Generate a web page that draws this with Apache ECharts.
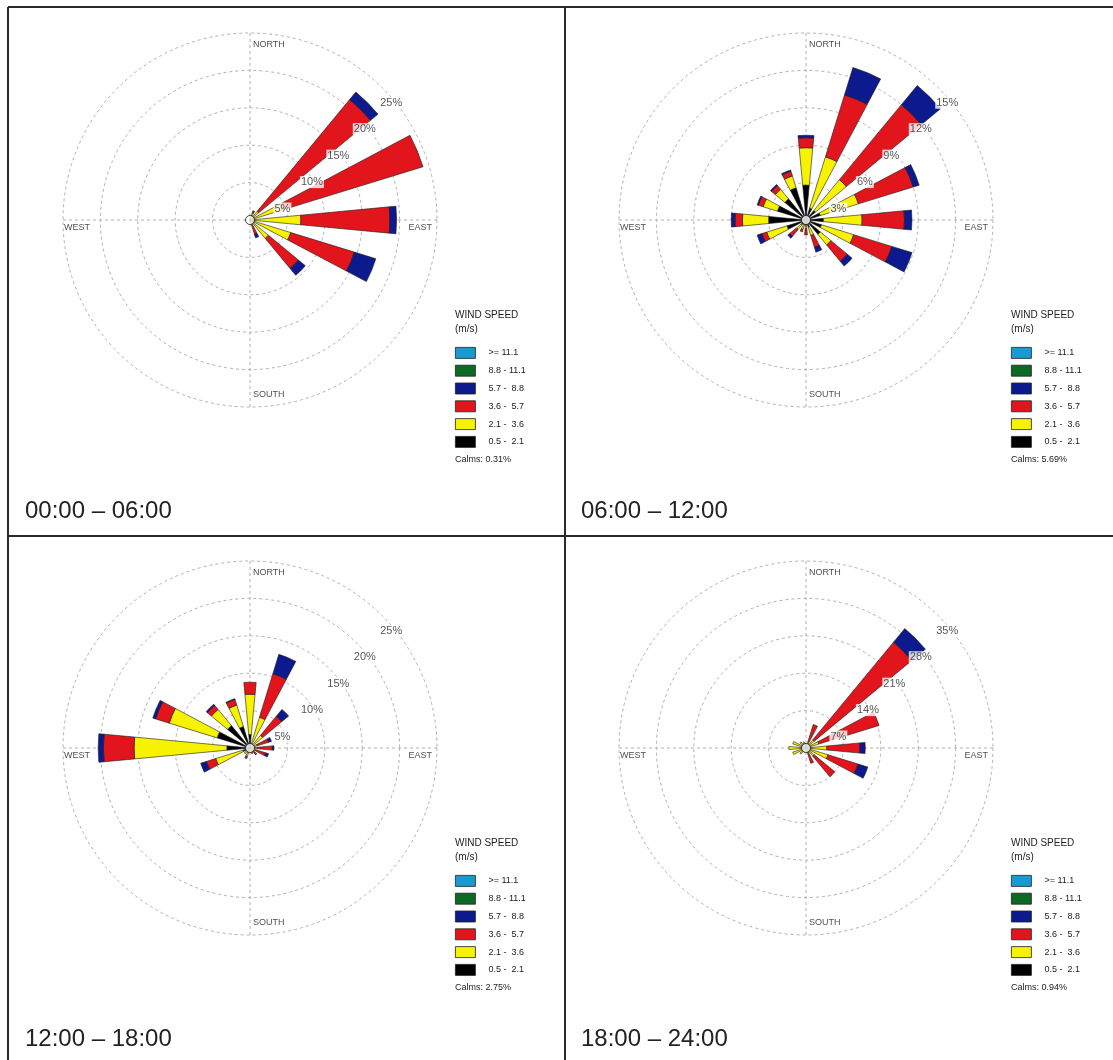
<!DOCTYPE html>
<html>
<head>
<meta charset="utf-8">
<title>Wind roses by time of day</title>
<script src="https://cdn.jsdelivr.net/npm/echarts@6/dist/echarts.min.js"></script>
<style>
  html, body { margin: 0; padding: 0; background: #ffffff; }
  #chart { width: 1113px; height: 1060px; }
</style>
</head>
<body>
<div id="chart"></div>
<script>
// ---------------------------------------------------------------------------
// Data: frequency (% of hours) per direction, split by wind-speed class.
// Each array runs N, NNE, NE, ... NNW; values are the share of each class,
// stacked outward from the calm circle.
// ---------------------------------------------------------------------------
const DIRECTIONS = ['N', 'NNE', 'NE', 'ENE', 'E', 'ESE', 'SE', 'SSE',
                    'S', 'SSW', 'SW', 'WSW', 'W', 'WNW', 'NW', 'NNW'];

// speed classes (m/s), innermost first
const SPEED_CLASSES = ['0.5 -  2.1', '2.1 -  3.6', '3.6 -  5.7', '5.7 -  8.8', '8.8 - 11.1', '>= 11.1'];
// legend order, top to bottom
const LEGEND_ORDER = ['>= 11.1', '8.8 - 11.1', '5.7 -  8.8', '3.6 -  5.7', '2.1 -  3.6', '0.5 -  2.1'];

const PERIOD_LABELS = ['00:00 \u2013 06:00', '06:00 \u2013 12:00', '12:00 \u2013 18:00', '18:00 \u2013 24:00'];
const CALMS = ['0.31%', '5.69%', '2.75%', '0.94%'];

// ring tick values (%) for each rose
const TICKS_00_06 = [5, 10, 15, 20, 25];
const TICKS_06_12 = [3, 6, 9, 12, 15];
const TICKS_12_18 = [5, 10, 15, 20, 25];
const TICKS_18_24 = [7, 14, 21, 28, 35];

// no hours above 8.8 m/s in any period
const NONE_ABOVE_8_8 = [0, 0, 0, 0, 0, 0, 0, 0, 0, 0, 0, 0, 0, 0, 0, 0];

// 00:00 - 06:00
const H00_06_0_5_2_1 = [0.1, 0.2, 0.3, 0.3, 0.4, 0.4, 0.3, 0.2, 0.2, 0.2, 0, 0, 0, 0, 0, 0];
const H00_06_2_1_3_6 = [0.2, 0.8, 1.2, 4.2, 6.4, 5.3, 2.9, 0.4, 0.1, 0, 0, 0, 0, 0, 0, 0];
const H00_06_3_6_5_7 = [0, 0.3, 19.4, 19.7, 11.9, 8.9, 5.2, 1.4, 0, 0, 0, 0, 0, 0, 0, 0];
const H00_06_5_7_8_8 = [0, 0, 1.3, 0, 0.9, 3.0, 1.2, 0.5, 0, 0, 0, 0, 0, 0, 0, 0];

// 06:00 - 12:00
const H06_12_0_5_2_1 = [2.8, 1.0, 1.0, 1.2, 1.4, 1.3, 1.5, 0.6, 0.4, 0.4, 0.5, 1.6, 3.0, 2.4, 2.2, 2.7];
const H06_12_2_1_3_6 = [3.0, 4.3, 3.2, 3.2, 3.1, 2.7, 1.1, 0.7, 0.3, 0.4, 0.5, 1.7, 2.1, 1.2, 1.0, 1.0];
const H06_12_3_6_5_7 = [0.8, 5.2, 7.8, 4.6, 3.4, 3.2, 1.7, 1.0, 0.5, 0.2, 0.7, 0.4, 0.6, 0.4, 0.4, 0.4];
const H06_12_5_7_8_8 = [0.2, 2.3, 2.0, 0.5, 0.6, 1.7, 0.5, 0.4, 0, 0, 0.2, 0.4, 0.3, 0.1, 0.1, 0.1];

// 12:00 - 18:00
const H12_18_0_5_2_1 = [1.8, 0.5, 0.3, 0.3, 0.3, 0.2, 0.2, 0.2, 0.2, 0.3, 0.3, 1.0, 3.1, 4.6, 3.9, 3.0];
const H12_18_2_1_3_6 = [5.4, 3.8, 1.9, 0.7, 0.7, 0.6, 0.4, 0.3, 0.2, 0.9, 0.7, 3.8, 12.4, 6.7, 2.8, 3.0];
const H12_18_3_6_5_7 = [1.6, 6.1, 3.3, 1.6, 2.0, 1.4, 0.6, 0.3, 0, 0.3, 0, 1.3, 4.1, 1.9, 0.7, 0.8];
const H12_18_5_7_8_8 = [0, 2.7, 1.2, 0.4, 0.2, 0.4, 0, 0, 0, 0, 0, 0.8, 0.7, 0.4, 0.2, 0.1];

// 18:00 - 24:00
const H18_24_0_5_2_1 = [0.3, 0.3, 0.3, 0.3, 0.3, 0.3, 0.3, 0.2, 0.2, 0.2, 0.3, 0.3, 0.3, 0.3, 0.3, 0.3];
const H18_24_2_1_3_6 = [0.5, 0.9, 1.7, 2.2, 3.6, 4.0, 1.7, 0.6, 0.4, 0.6, 1.2, 2.3, 2.9, 2.3, 1.2, 0.9];
const H18_24_3_6_5_7 = [0, 3.4, 23.7, 11.8, 6.2, 5.9, 5.0, 2.2, 0, 0, 0, 0, 0, 0, 0, 0];
const H18_24_5_7_8_8 = [0, 0, 3.3, 0, 1.0, 1.9, 0, 0, 0, 0, 0, 0, 0, 0, 0, 0];

// ---------------------------------------------------------------------------
// Layout and styling
// ---------------------------------------------------------------------------
const FONT = '"Liberation Sans", Arial, Helvetica, sans-serif';
const SPEED_COLORS = ['#000000', '#f6f200', '#e3151c', '#0c1a8e', '#0b6b22', '#1b9ad2'];
const ROSE_RADIUS = 187;
const PANEL_CENTERS = [[250, 220], [806, 220], [250, 748], [806, 748]];
const GUIDE_LINE = { color: '#b0b0b0', width: 1, type: [3, 3] };

const periods = [
  { label: PERIOD_LABELS[0], calm: CALMS[0], ticks: TICKS_00_06,
    classes: [H00_06_0_5_2_1, H00_06_2_1_3_6, H00_06_3_6_5_7, H00_06_5_7_8_8, NONE_ABOVE_8_8, NONE_ABOVE_8_8] },
  { label: PERIOD_LABELS[1], calm: CALMS[1], ticks: TICKS_06_12,
    classes: [H06_12_0_5_2_1, H06_12_2_1_3_6, H06_12_3_6_5_7, H06_12_5_7_8_8, NONE_ABOVE_8_8, NONE_ABOVE_8_8] },
  { label: PERIOD_LABELS[2], calm: CALMS[2], ticks: TICKS_12_18,
    classes: [H12_18_0_5_2_1, H12_18_2_1_3_6, H12_18_3_6_5_7, H12_18_5_7_8_8, NONE_ABOVE_8_8, NONE_ABOVE_8_8] },
  { label: PERIOD_LABELS[3], calm: CALMS[3], ticks: TICKS_18_24,
    classes: [H18_24_0_5_2_1, H18_24_2_1_3_6, H18_24_3_6_5_7, H18_24_5_7_8_8, NONE_ABOVE_8_8, NONE_ABOVE_8_8] }
];

const option = {
  backgroundColor: '#ffffff',
  animation: false,
  polar: [], angleAxis: [], radiusAxis: [],
  legend: [], title: [], series: [],
  graphic: []
};

const hidden = { show: false };

function textTitle(text, left, centerY, size) {
  return {
    text, left, top: centerY - Math.round(size * 0.6), padding: 0,
    textStyle: { fontSize: size, fontWeight: 'normal', color: '#222', fontFamily: FONT }
  };
}

periods.forEach((p, i) => {
  const [cx, cy] = PANEL_CENTERS[i];
  const step = p.ticks[0];
  const maxR = p.ticks[p.ticks.length - 1];
  const barPolar = 2 * i;
  const guidePolar = 2 * i + 1;

  option.polar.push({ center: [cx, cy], radius: ROSE_RADIUS });
  option.polar.push({ center: [cx, cy], radius: ROSE_RADIUS });

  // bars: 16 direction sectors, north centred at the top, clockwise
  option.angleAxis.push({
    polarIndex: barPolar, type: 'category', data: DIRECTIONS,
    startAngle: 90 + 360 / DIRECTIONS.length / 2, clockwise: true, boundaryGap: true,
    axisLine: hidden, axisTick: hidden, axisLabel: hidden, splitLine: hidden
  });
  option.radiusAxis.push({
    polarIndex: barPolar, type: 'value', min: 0, max: maxR, interval: step,
    axisLine: hidden, axisTick: hidden, axisLabel: hidden, splitLine: hidden
  });

  // guides: dashed rings and the N-S / E-W cross
  option.angleAxis.push({
    polarIndex: guidePolar, type: 'value', min: 0, max: 360, interval: 90,
    startAngle: 90, clockwise: true,
    axisLine: hidden, axisTick: hidden, axisLabel: hidden,
    splitLine: { show: true, lineStyle: GUIDE_LINE }
  });
  option.radiusAxis.push({
    polarIndex: guidePolar, type: 'value', min: 0, max: maxR, interval: step,
    axisLine: hidden, axisTick: hidden, axisLabel: hidden,
    splitLine: { show: true, lineStyle: GUIDE_LINE }
  });

  SPEED_CLASSES.forEach((name, k) => {
    option.series.push({
      type: 'bar', name, coordinateSystem: 'polar', polarIndex: barPolar,
      stack: 'rose' + i,
      data: p.classes[k].map(v => (v === 0 ? null : v)),
      barWidth: '48%',
      itemStyle: { color: SPEED_COLORS[k], borderColor: '#1a1a1a', borderWidth: 0.6 },
      emphasis: { disabled: true }, silent: true, z: 3
    });
  });

  // ring values along the north-east diagonal
  option.series.push({
    type: 'scatter', coordinateSystem: 'polar', polarIndex: guidePolar,
    symbolSize: 0, silent: true, z: 5,
    data: p.ticks.map(t => [t, 45]),
    label: {
      show: true, position: 'inside', align: 'left', verticalAlign: 'middle',
      offset: [-3, 15], formatter: d => d.value[0] + '%',
      fontSize: 11, color: '#2a2a2a', fontFamily: FONT,
      backgroundColor: '#ffffff', padding: [1, 1, 0, 1]
    }
  });

  // compass words just inside the outer ring
  const compassLabel = { show: true, position: 'inside', formatter: '{b}', fontSize: 9, color: '#222', fontFamily: FONT, verticalAlign: 'middle' };
  option.series.push({
    type: 'scatter', coordinateSystem: 'polar', polarIndex: guidePolar,
    symbolSize: 0, silent: true, z: 5,
    label: compassLabel,
    data: [
      { name: 'NORTH', value: [maxR, 0],   label: { align: 'left',  offset: [3, 12] } },
      { name: 'EAST',  value: [maxR, 90],  label: { align: 'right', offset: [-5, 8] } },
      { name: 'SOUTH', value: [maxR, 180], label: { align: 'left',  offset: [3, -12] } },
      { name: 'WEST',  value: [maxR, 270], label: { align: 'left',  offset: [1, 8] } }
    ]
  });

  // calm circle at the hub
  option.series.push({
    type: 'scatter', coordinateSystem: 'polar', polarIndex: guidePolar,
    symbol: 'circle', symbolSize: 9, silent: true, z: 6,
    itemStyle: { color: '#ffffff', borderColor: '#111', borderWidth: 1 },
    data: [[0, 0]]
  });

  // speed key
  option.legend.push({
    orient: 'vertical', left: cx + 205, top: cy + 127, padding: 0,
    data: LEGEND_ORDER, icon: 'rect', itemWidth: 20, itemHeight: 11, itemGap: 6,
    selectedMode: false,
    itemStyle: { borderColor: '#222', borderWidth: 0.8 },
    textStyle: { fontSize: 9, color: '#222', fontFamily: FONT, padding: [0, 0, 0, 8] }
  });
  option.title.push(textTitle('WIND SPEED', cx + 205, cy + 96, 10));
  option.title.push(textTitle('(m/s)', cx + 205, cy + 110, 10));
  option.title.push(textTitle('Calms: ' + p.calm, cx + 205, cy + 240, 9));
  option.title.push(textTitle(p.label, cx - 225, cy + 293, 24));
});

// panel frame
const FRAME = { stroke: '#2a2a2a', lineWidth: 2 };
option.graphic = [
  { type: 'line', shape: { x1: 8, y1: 7, x2: 1113, y2: 7 }, style: FRAME, silent: true },
  { type: 'line', shape: { x1: 8, y1: 536, x2: 1113, y2: 536 }, style: FRAME, silent: true },
  { type: 'line', shape: { x1: 8, y1: 7, x2: 8, y2: 1060 }, style: FRAME, silent: true },
  { type: 'line', shape: { x1: 565, y1: 7, x2: 565, y2: 1060 }, style: FRAME, silent: true }
];

const chart = echarts.init(document.getElementById('chart'), null, { renderer: 'canvas' });
chart.setOption(option);
</script>
</body>
</html>
